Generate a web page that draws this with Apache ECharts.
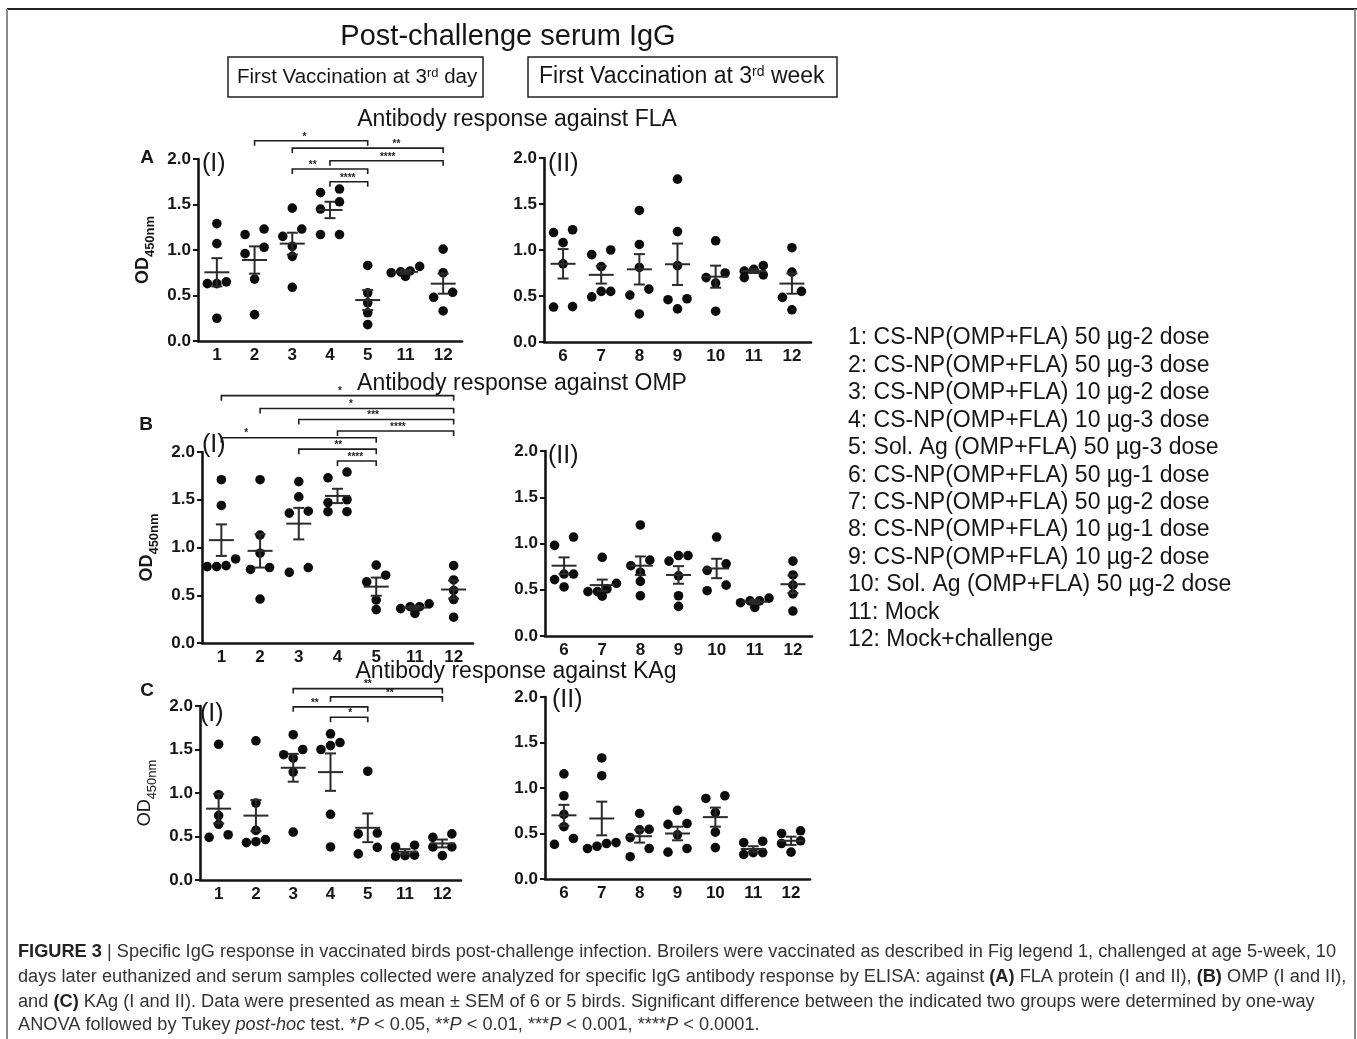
<!DOCTYPE html>
<html><head><meta charset="utf-8">
<script src="https://cdn.jsdelivr.net/npm/echarts@6/dist/echarts.min.js"></script>
<style>html,body{margin:0;padding:0;background:#fff}#c{width:1357px;height:1039px}</style>
</head><body><div id="c"></div>
<script>
// ---------- categories ----------
const catsI = ['1', '2', '3', '4', '5', '11', '12'];
const catsII = ['6', '7', '8', '9', '10', '11', '12'];
const yTickLabels = ['0.0', '0.5', '1.0', '1.5', '2.0'];

// ---------- FLA ----------
const FLA_I_points = [
  [1.29, 1.07, 0.65, 0.63, 0.63, 0.25],
  [1.23, 1.17, 1.03, 0.96, 0.68, 0.29],
  [1.46, 1.23, 1.15, 1.04, 0.93, 0.59],
  [1.67, 1.63, 1.53, 1.45, 1.17, 1.17],
  [0.83, 0.53, 0.42, 0.31, 0.18],
  [0.82, 0.77, 0.76, 0.75, 0.71],
  [1.01, 0.75, 0.535, 0.48, 0.33]
];
const FLA_I_mean = [0.755, 0.89, 1.07, 1.44, 0.45, 0.76, 0.63];
const FLA_I_sem = [0.155, 0.15, 0.12, 0.09, 0.11, 0.02, 0.11];
const FLA_II_points = [
  [1.22, 1.19, 1.08, 0.85, 0.385, 0.38],
  [1.0, 0.95, 0.82, 0.55, 0.55, 0.49],
  [1.43, 1.06, 0.81, 0.575, 0.51, 0.305],
  [1.77, 1.20, 0.83, 0.47, 0.46, 0.36],
  [1.10, 0.75, 0.70, 0.64, 0.335],
  [0.83, 0.79, 0.77, 0.73, 0.70],
  [1.025, 0.76, 0.55, 0.485, 0.35]
];
const FLA_II_mean = [0.85, 0.73, 0.79, 0.845, 0.71, 0.77, 0.635];
const FLA_II_sem = [0.16, 0.095, 0.165, 0.225, 0.12, 0.02, 0.11];
// brackets: [fromIndex, toIndex, level, label]
const FLA_I_sig = [
  [1, 4, 2.20, '*'],
  [2, 6, 2.12, '**'],
  [3, 6, 1.98, '****'],
  [2, 4, 1.89, '**'],
  [3, 4, 1.75, '****']
];

// ---------- OMP ----------
const OMP_I_points = [
  [1.71, 1.44, 0.88, 0.81, 0.80, 0.80],
  [1.71, 1.13, 0.94, 0.79, 0.77, 0.46],
  [1.69, 1.53, 1.38, 1.36, 0.79, 0.74],
  [1.79, 1.73, 1.50, 1.47, 1.375, 1.375],
  [0.815, 0.71, 0.64, 0.45, 0.35],
  [0.41, 0.38, 0.38, 0.36, 0.31],
  [0.81, 0.66, 0.55, 0.455, 0.27]
];
const OMP_I_mean = [1.077, 0.965, 1.25, 1.54, 0.59, 0.37, 0.56];
const OMP_I_sem = [0.165, 0.175, 0.165, 0.075, 0.095, 0.02, 0.095];
const OMP_II_points = [
  [1.07, 0.98, 0.67, 0.67, 0.61, 0.53],
  [0.85, 0.57, 0.51, 0.48, 0.48, 0.43],
  [1.20, 0.82, 0.76, 0.69, 0.59, 0.435],
  [0.87, 0.87, 0.81, 0.65, 0.435, 0.32],
  [1.07, 0.78, 0.71, 0.55, 0.49],
  [0.41, 0.38, 0.38, 0.36, 0.31],
  [0.81, 0.66, 0.55, 0.455, 0.27]
];
const OMP_II_mean = [0.76, 0.55, 0.76, 0.66, 0.73, 0.37, 0.56];
const OMP_II_sem = [0.09, 0.06, 0.10, 0.095, 0.105, 0.02, 0.095];
const OMP_I_sig = [
  [0, 6, 2.59, '*'],
  [1, 6, 2.455, '*'],
  [2, 6, 2.34, '***'],
  [3, 6, 2.22, '****'],
  [0, 4, 2.15, '*'],
  [2, 4, 2.03, '**'],
  [3, 4, 1.905, '****']
];

// ---------- KAg ----------
const KAg_I_points = [
  [1.56, 0.98, 0.74, 0.64, 0.52, 0.49],
  [1.60, 0.885, 0.57, 0.465, 0.44, 0.43],
  [1.67, 1.50, 1.44, 1.40, 1.24, 0.55],
  [1.68, 1.58, 1.545, 1.50, 0.755, 0.38],
  [1.25, 0.54, 0.53, 0.375, 0.30],
  [0.40, 0.38, 0.285, 0.28, 0.275],
  [0.53, 0.49, 0.38, 0.38, 0.28]
];
const KAg_I_mean = [0.82, 0.74, 1.29, 1.24, 0.60, 0.325, 0.42];
const KAg_I_sem = [0.17, 0.18, 0.16, 0.215, 0.165, 0.03, 0.045];
const KAg_II_points = [
  [1.155, 0.915, 0.71, 0.575, 0.445, 0.38],
  [1.33, 1.135, 0.40, 0.39, 0.36, 0.335],
  [0.72, 0.545, 0.54, 0.455, 0.335, 0.245],
  [0.755, 0.61, 0.60, 0.485, 0.335, 0.295],
  [0.915, 0.885, 0.73, 0.515, 0.345],
  [0.415, 0.40, 0.29, 0.29, 0.27],
  [0.53, 0.50, 0.42, 0.39, 0.295]
];
const KAg_II_mean = [0.70, 0.665, 0.47, 0.50, 0.68, 0.33, 0.42];
const KAg_II_sem = [0.115, 0.185, 0.07, 0.075, 0.105, 0.03, 0.045];
const KAg_I_sig = [
  [2, 6, 2.20, '**'],
  [3, 6, 2.105, '**'],
  [2, 4, 1.99, '**'],
  [3, 4, 1.87, '*']
];

// ---------- texts ----------
const mainTitle = 'Post-challenge serum IgG';
const boxLabels = ['First Vaccination at 3{sup|rd} day', 'First Vaccination at 3{sup|rd} week'];
const panelTitles = ['Antibody response against FLA', 'Antibody response against OMP', 'Antibody response against KAg'];
const rowLetters = ['A', 'B', 'C'];
const legendLines = [
  '1: CS-NP(OMP+FLA) 50 µg-2 dose',
  '2: CS-NP(OMP+FLA) 50 µg-3 dose',
  '3: CS-NP(OMP+FLA) 10 µg-2 dose',
  '4: CS-NP(OMP+FLA) 10 µg-3 dose',
  '5: Sol. Ag (OMP+FLA) 50 µg-3 dose',
  '6: CS-NP(OMP+FLA) 50 µg-1 dose',
  '7: CS-NP(OMP+FLA) 50 µg-2 dose',
  '8: CS-NP(OMP+FLA) 10 µg-1 dose',
  '9: CS-NP(OMP+FLA) 10 µg-2 dose',
  '10: Sol. Ag (OMP+FLA) 50 µg-2 dose',
  '11: Mock',
  '12: Mock+challenge'
];
const captionLines = [
  '{b|FIGURE 3} | Specific IgG response in vaccinated birds post-challenge infection. Broilers were vaccinated as described in Fig legend 1, challenged at age 5-week, 10',
  'days later euthanized and serum samples collected were analyzed for specific IgG antibody response by ELISA: against {b|(A)} FLA protein (I and II), {b|(B)} OMP (I and II),',
  'and {b|(C)} KAg (I and II). Data were presented as mean ± SEM of 6 or 5 birds. Significant difference between the indicated two groups were determined by one-way',
  'ANOVA followed by Tukey {i|post-hoc} test. *{i|P} < 0.05, **{i|P} < 0.01, ***{i|P} < 0.001, ****{i|P} < 0.0001.'
];

// ---------- layout (positions / styles) ----------
const FONT = '"Liberation Sans", Arial, Helvetica, sans-serif';
const INK = '#151515';
// where each star label sits along its bracket (0 = left end, 1 = right end)
const FLA_I_labelAt = [0.44, 0.69, 0.51, 0.27, 0.47];
const OMP_I_labelAt = [0.51, 0.47, 0.48, 0.52, 0.16, 0.51, 0.46];
const KAg_I_labelAt = [0.5, 0.53, 0.29, 0.53];
const panels = [
  { cats: catsI, pts: FLA_I_points, mean: FLA_I_mean, sem: FLA_I_sem, sig: FLA_I_sig, labelAt: FLA_I_labelAt, grid: { left: 198, top: 159, width: 264, height: 182 }, tag: '(I)', tagPos: [202, 164], boldName: true },
  { cats: catsII, pts: FLA_II_points, mean: FLA_II_mean, sem: FLA_II_sem, sig: [], grid: { left: 544, top: 158, width: 267, height: 184 }, tag: '(II)', tagPos: [548, 164] },
  { cats: catsI, pts: OMP_I_points, mean: OMP_I_mean, sem: OMP_I_sem, sig: OMP_I_sig, labelAt: OMP_I_labelAt, grid: { left: 202, top: 452, width: 271, height: 191 }, tag: '(I)', tagPos: [202, 445], boldName: true },
  { cats: catsII, pts: OMP_II_points, mean: OMP_II_mean, sem: OMP_II_sem, sig: [], grid: { left: 545, top: 451, width: 267, height: 185 }, tag: '(II)', tagPos: [548, 456] },
  { cats: catsI, pts: KAg_I_points, mean: KAg_I_mean, sem: KAg_I_sem, sig: KAg_I_sig, labelAt: KAg_I_labelAt, grid: { left: 200, top: 706, width: 261, height: 174 }, tag: '(I)', tagPos: [200, 714], boldName: false },
  { cats: catsII, pts: KAg_II_points, mean: KAg_II_mean, sem: KAg_II_sem, sig: [], grid: { left: 545, top: 697, width: 265, height: 182 }, tag: '(II)', tagPos: [552, 700] }
];

// column-scatter placement: points with similar values are spread sideways
function swarmSlots(vals, thr) {
  const order = vals.map((v, i) => i).sort((a, b) => vals[b] - vals[a]);
  const slots = new Array(vals.length).fill(0);
  let row = [];
  const flush = () => {
    const n = row.length;
    row.forEach((k, j) => {
      let s = (n - 1) / 2 - j;
      if (n === 2) s = s * 2;
      slots[k] = s;
    });
    row = [];
  };
  order.forEach(k => {
    if (row.length && vals[row[0]] - vals[k] > thr) flush();
    row.push(k);
  });
  flush();
  return slots;
}

const SLOT_PX = 9.5;
const grids = [], xAxes = [], yAxes = [], series = [];
panels.forEach((p, gi) => {
  grids.push(Object.assign({ containLabel: false, outerBoundsMode: 'none' }, p.grid));
  xAxes.push({
    type: 'category', gridIndex: gi, data: p.cats, boundaryGap: true,
    axisLine: { lineStyle: { color: INK, width: 2.6 } },
    axisTick: { show: false },
    axisLabel: { color: INK, fontFamily: FONT, fontWeight: 'bold', fontSize: 17, margin: 6 },
    splitLine: { show: false }
  });
  const nameBold = p.boldName !== false;
  yAxes.push({
    type: 'value', gridIndex: gi, min: 0, max: 2, interval: 0.5,
    axisLine: { show: true, lineStyle: { color: INK, width: 2.6 } },
    axisTick: { show: true, length: 5, lineStyle: { color: INK, width: 2 } },
    axisLabel: { color: INK, fontFamily: FONT, fontWeight: 'bold', fontSize: 17, margin: 7,
      formatter: v => yTickLabels[Math.round(v / 0.5)] },
    splitLine: { show: false },
    name: p.boldName === undefined ? '' : '{a|OD}{b|450nm}',
    nameLocation: 'middle', nameGap: 43, nameRotate: 90,
    nameTextStyle: {
      rich: {
        a: { fontSize: 18, fontFamily: FONT, fontWeight: nameBold ? 'bold' : 'normal', color: INK, lineHeight: 21, verticalAlign: 'top' },
        b: { fontSize: 13, fontFamily: FONT, fontWeight: nameBold ? 'bold' : 'normal', color: INK, lineHeight: 13, padding: [10, 0, 0, 0], verticalAlign: 'top' }
      }
    }
  });
  // individual birds
  const dotData = [];
  p.pts.forEach((vals, ci) => {
    const slots = swarmSlots(vals, 0.095);
    vals.forEach((v, k) => dotData.push([ci, v, slots[k]]));
  });
  series.push({
    type: 'custom', xAxisIndex: gi, yAxisIndex: gi, clip: false, z: 3,
    data: dotData,
    renderItem: (params, api) => {
      const c = api.coord([api.value(0), api.value(1)]);
      return { type: 'circle', shape: { cx: c[0] + api.value(2) * SLOT_PX, cy: c[1], r: 4.8 }, style: { fill: '#0c0c0c' } };
    }
  });
  // mean ± SEM
  series.push({
    type: 'custom', xAxisIndex: gi, yAxisIndex: gi, clip: false, z: 4,
    data: p.mean.map((m, ci) => [ci, m, p.sem[ci]]),
    renderItem: (params, api) => {
      const x = api.value(0), m = api.value(1), s = api.value(2);
      const c = api.coord([x, m]);
      const t = api.coord([x, m + s]);
      const b = api.coord([x, m - s]);
      const st = { stroke: '#2b2b2b', lineWidth: 2 };
      return { type: 'group', children: [
        { type: 'line', shape: { x1: c[0] - 12.5, y1: c[1], x2: c[0] + 12.5, y2: c[1] }, style: st },
        { type: 'line', shape: { x1: c[0], y1: t[1], x2: c[0], y2: b[1] }, style: st },
        { type: 'line', shape: { x1: c[0] - 5.5, y1: t[1], x2: c[0] + 5.5, y2: t[1] }, style: st },
        { type: 'line', shape: { x1: c[0] - 5.5, y1: b[1], x2: c[0] + 5.5, y2: b[1] }, style: st }
      ] };
    }
  });
  // significance brackets
  if (p.sig.length) {
    series.push({
      type: 'custom', xAxisIndex: gi, yAxisIndex: gi, clip: false, z: 5,
      data: p.sig.map(s => [s[0], s[1], s[2]]),
      renderItem: (params, api) => {
        const d = p.sig[params.dataIndex];
        const f = p.labelAt[params.dataIndex];
        const p1 = api.coord([d[0], d[2]]);
        const p2 = api.coord([d[1], d[2]]);
        return { type: 'group', children: [
          { type: 'polyline', shape: { points: [[p1[0], p1[1] + 5], [p1[0], p1[1]], [p2[0], p2[1]], [p2[0], p2[1] + 5]] },
            style: { stroke: '#1e1e1e', lineWidth: 1.6, fill: null } },
          { type: 'text', x: p1[0] + (p2[0] - p1[0]) * f, y: p1[1] + 1,
            style: { text: d[3], font: 'bold 10px ' + FONT, fill: '#1e1e1e', textAlign: 'center', textVerticalAlign: 'bottom' } }
        ] };
      }
    });
  }
});

// ---------- graphics (titles, frame, legend, caption) ----------
const graphic = [];
graphic.push({ type: 'line', shape: { x1: 7, y1: 9, x2: 1357, y2: 9 }, style: { stroke: '#222', lineWidth: 2 } });
graphic.push({ type: 'line', shape: { x1: 7, y1: 9, x2: 7, y2: 1039 }, style: { stroke: '#8a8a8a', lineWidth: 2 } });
graphic.push({ type: 'line', shape: { x1: 1355, y1: 9, x2: 1355, y2: 1039 }, style: { stroke: '#8a8a8a', lineWidth: 2 } });
graphic.push({ type: 'text', x: 508, y: 37, style: { text: mainTitle, font: '29px ' + FONT, fill: INK, textAlign: 'center', textVerticalAlign: 'middle' } });
const boxes = [[228, 57, 255, 40, 237, 20.5], [528, 57, 309, 40, 539, 23]];
boxes.forEach((b, i) => {
  graphic.push({ type: 'rect', shape: { x: b[0], y: b[1], width: b[2], height: b[3] }, style: { fill: 'none', stroke: '#222', lineWidth: 1.5 } });
  graphic.push({ type: 'text', x: b[4], y: b[1] + b[3] / 2, style: {
    text: boxLabels[i], font: b[5] + 'px ' + FONT, fill: INK, textAlign: 'left', textVerticalAlign: 'middle',
    rich: { sup: { fontSize: Math.round(b[5] * 0.62), fontFamily: FONT, fill: INK, lineHeight: 13, verticalAlign: 'top' } }
  } });
});
const titlePos = [[517, 120], [522, 384], [516, 672]];
panelTitles.forEach((t, i) => graphic.push({ type: 'text', x: titlePos[i][0], y: titlePos[i][1],
  style: { text: t, font: '23px ' + FONT, fill: INK, textAlign: 'center', textVerticalAlign: 'middle' } }));
const letterPos = [[147, 158], [146, 425], [147, 691]];
rowLetters.forEach((t, i) => graphic.push({ type: 'text', x: letterPos[i][0], y: letterPos[i][1],
  style: { text: t, font: 'bold 19px ' + FONT, fill: INK, textAlign: 'center', textVerticalAlign: 'middle' } }));
panels.forEach(p => graphic.push({ type: 'text', x: p.tagPos[0], y: p.tagPos[1],
  style: { text: p.tag, font: '25px ' + FONT, fill: INK, textAlign: 'left', textVerticalAlign: 'middle' } }));
legendLines.forEach((t, i) => graphic.push({ type: 'text', x: 848, y: 338 + 27.45 * i,
  style: { text: t, font: '23px ' + FONT, fill: INK, textAlign: 'left', textVerticalAlign: 'middle' } }));

// caption: condense horizontally to the reference line width
const capFont = '18px ' + FONT;
const mctx = document.createElement('canvas').getContext('2d');
mctx.font = capFont;
const plain1 = captionLines[0].replace(/\{\w+\|([^}]*)\}/g, '$1');
const capScale = 1318 / mctx.measureText(plain1).width;
const capY = [952, 977, 1002, 1025];
captionLines.forEach((t, i) => graphic.push({ type: 'text', x: 18, y: capY[i], scaleX: capScale,
  style: { text: t, font: capFont, fill: '#333', textAlign: 'left', textVerticalAlign: 'middle',
    rich: {
      b: { fontSize: 18, fontFamily: FONT, fontWeight: 'bold', fill: '#222' },
      i: { fontSize: 18, fontFamily: FONT, fontStyle: 'italic', fill: '#333' }
    } } }));

const chart = echarts.init(document.getElementById('c'), null, { renderer: 'canvas' });
chart.setOption({
  animation: false,
  backgroundColor: '#fff',
  grid: grids, xAxis: xAxes, yAxis: yAxes, series: series, graphic: graphic
});
</script></body></html>
